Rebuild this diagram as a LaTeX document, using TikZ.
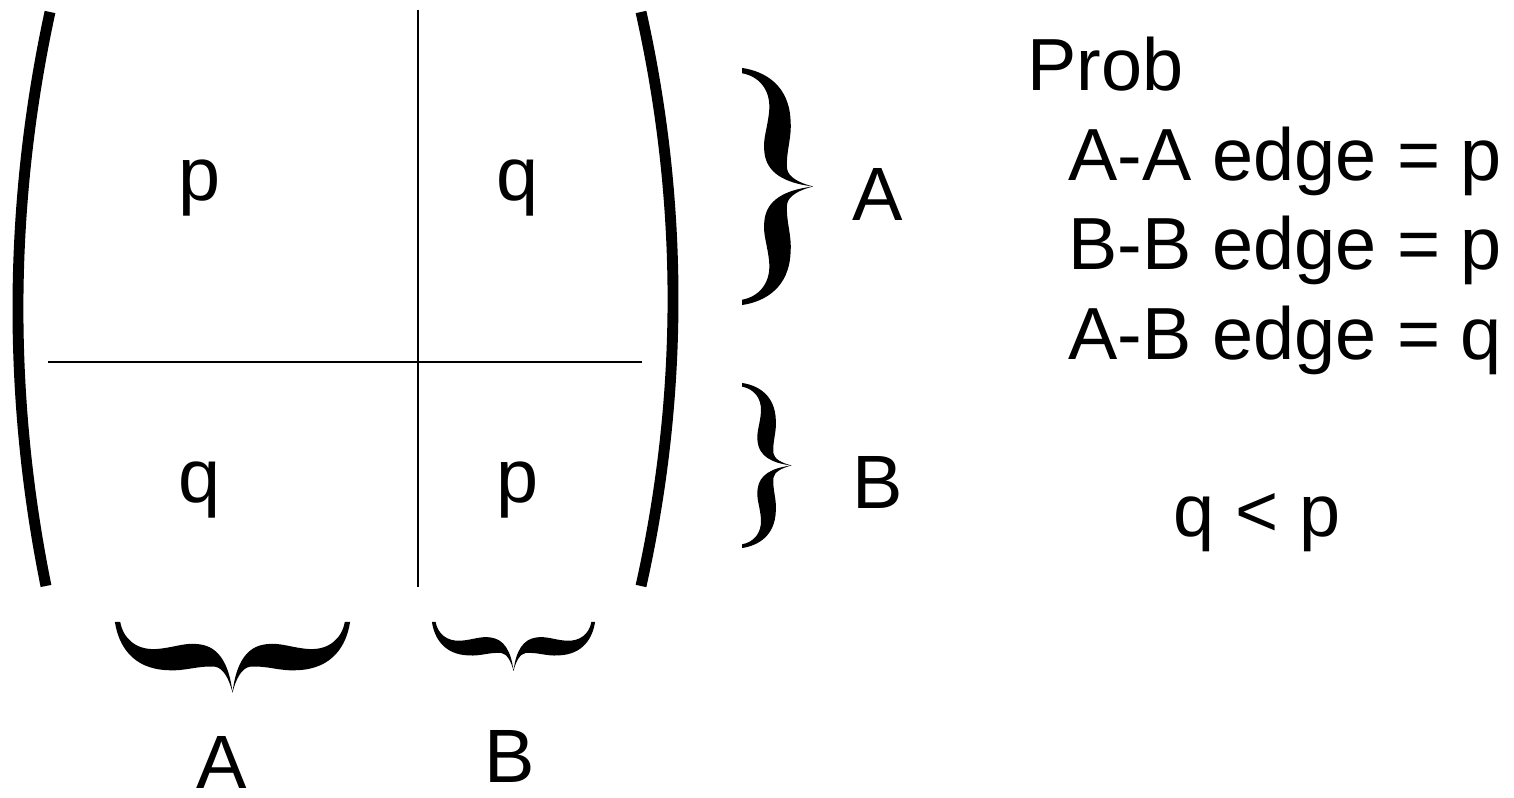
\documentclass[tikz,border=0pt]{standalone}
\usepackage{fontspec}
\setmainfont{Liberation Sans}
\newcommand{\mybracepath}{%
  (0.6,0) .. controls (0.48,0.03) and (0.39,0.08) .. (0.38,0.15)
  .. controls (0.37,0.3) and (0.42,0.4) .. (0.41,0.55)
  .. controls (0.40,0.85) and (0.2,0.97) .. (0,1) -- (0,0.955)
  .. controls (0.14,0.93) and (0.24,0.82) .. (0.23,0.65)
  .. controls (0.22,0.5) and (0.17,0.4) .. (0.19,0.28)
  .. controls (0.21,0.12) and (0.35,0.03) .. (0.6,0) -- cycle
  (0.6,0) .. controls (0.48,-0.03) and (0.39,-0.08) .. (0.38,-0.15)
  .. controls (0.37,-0.3) and (0.42,-0.4) .. (0.41,-0.55)
  .. controls (0.40,-0.85) and (0.2,-0.97) .. (0,-1) -- (0,-0.955)
  .. controls (0.14,-0.93) and (0.24,-0.82) .. (0.23,-0.65)
  .. controls (0.22,-0.5) and (0.17,-0.4) .. (0.19,-0.28)
  .. controls (0.21,-0.12) and (0.35,-0.03) .. (0.6,0) -- cycle}
\tikzset{
  paren/.style={line width=3.1pt},
  divider/.style={line width=0.6pt},
  big/.style={font=\fontsize{21.5}{26}\selectfont, inner sep=0pt, anchor=base},
  side/.style={font=\fontsize{21}{25}\selectfont, inner sep=0pt, anchor=base west},
}
\begin{document}
\begin{tikzpicture}[x=0.01cm,y=-0.01cm]
\useasboundingbox (0,0) rectangle (1514,798);
% parentheses
\coordinate (lpt) at (50,12);
\coordinate (lpb) at (46,586);
\coordinate (rpt) at (641,12);
\coordinate (rpb) at (641,586);
\draw[paren] (lpt) .. controls (8.7,203.3) and (7.3,394.7) .. (lpb);
\draw[paren] (rpt) .. controls (683.7,203.3) and (683.7,394.7) .. (rpb);
% dividers
\coordinate (vt) at (418,10);
\coordinate (vb) at (418,587);
\coordinate (hl) at (48,362);
\coordinate (hr) at (642,362);
\draw[divider] (vt) -- (vb);
\draw[divider] (hl) -- (hr);
% entries
\node[big] (m11) at (200,201) {p};
\node[big] (m12) at (518,201) {q};
\node[big] (m21) at (200,503) {q};
\node[big] (m22) at (518,503) {p};
% braces
\coordinate (brA) at (742,186.5);
\coordinate (brB) at (742,465.5);
\coordinate (bbA) at (232.5,622);
\coordinate (bbB) at (513.5,622);
\begin{scope}[shift={(brA)}, x={(1.185cm,0)}, y={(0,1.185cm)}]
  \fill \mybracepath;
\end{scope}
\begin{scope}[shift={(brB)}, x={(0.825cm,0)}, y={(0,0.825cm)}]
  \fill \mybracepath;
\end{scope}
\begin{scope}[shift={(bbA)}, x={(0,-1.175cm)}, y={(1.175cm,0)}]
  \fill \mybracepath;
\end{scope}
\begin{scope}[shift={(bbB)}, x={(0,-0.815cm)}, y={(0.815cm,0)}]
  \fill \mybracepath;
\end{scope}
% labels
\node[big] (lA) at (878,221) {A};
\node[big] (lB) at (878,509) {B};
\node[big] (bA) at (222,789) {A};
\node[big] (bB) at (510,783) {B};
% right text
\node[side] (prob) at (1027,91) {Prob};
\node[side] (aa) at (1068,181) {A-A edge = p};
\node[side] (bb) at (1068,270) {B-B edge = p};
\node[side] (ab) at (1068,360) {A-B edge = q};
\node[side, anchor=base] (qp) at (1257,537) {q < p};
\end{tikzpicture}
\end{document}
